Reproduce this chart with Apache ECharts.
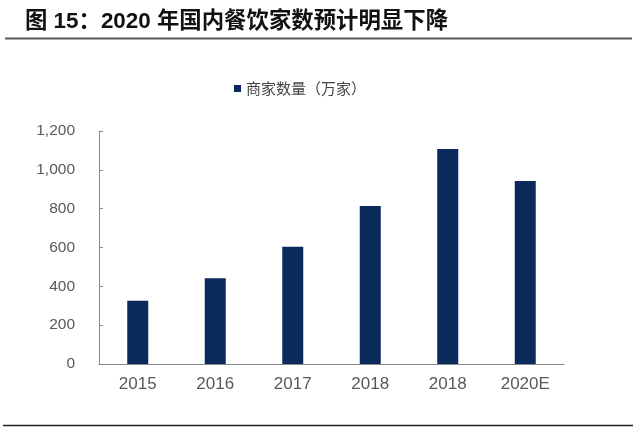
<!DOCTYPE html>
<html>
<head>
<meta charset="utf-8">
<script src="https://cdn.jsdelivr.net/npm/echarts@6/dist/echarts.min.js"></script>
<style>html,body{margin:0;padding:0;background:#fff;}#c{width:640px;height:431px;}</style>
</head>
<body>
<div id="c"></div>
<script>
var titleText = '图 15：2020 年国内餐饮家数预计明显下降';
var seriesName = '商家数量（万家）';
var categories = ['2015', '2016', '2017', '2018', '2018', '2020E'];
var values = [326, 441, 604, 814, 1107, 942];
var yTicks = [0, 200, 400, 600, 800, 1000, 1200];

var chart = echarts.init(document.getElementById('c'));
chart.setOption({
  animation: false,
  backgroundColor: '#fff',
  title: {
    text: titleText,
    left: 20, top: 6,
    textStyle: {fontFamily: 'Liberation Sans, "Noto Sans CJK SC"', fontSize: 22.4, fontWeight: 'bold', color: '#111'}
  },
  graphic: [
    {type: 'line', shape: {x1: 5, y1: 38.5, x2: 632, y2: 38.5}, style: {stroke: '#5a5a5a', lineWidth: 2}},
    {type: 'line', shape: {x1: 3, y1: 425.5, x2: 633, y2: 425.5}, style: {stroke: '#222', lineWidth: 1.3}}
  ],
  legend: {
    data: [seriesName],
    left: 229, top: 76,
    icon: 'rect', itemWidth: 7, itemHeight: 7, itemGap: 5,
    textStyle: {fontFamily: '"Noto Sans CJK SC"', fontSize: 15, color: '#444'}
  },
  grid: {left: 99, right: 76, top: 131, bottom: 67},
  xAxis: {
    type: 'category',
    data: categories,
    axisLine: {lineStyle: {color: '#8a8a8a', width: 1}},
    axisTick: {inside: true, length: 4, lineStyle: {color: '#8a8a8a'}},
    axisLabel: {margin: 12, fontFamily: 'Liberation Sans', fontSize: 17, color: '#595959'}
  },
  yAxis: {
    type: 'value',
    min: yTicks[0], max: yTicks[yTicks.length - 1], interval: 200,
    splitLine: {show: false},
    axisLine: {show: true, lineStyle: {color: '#8a8a8a', width: 1}},
    axisTick: {show: true, inside: true, length: 4, lineStyle: {color: '#8a8a8a'}},
    axisLabel: {
      margin: 24, fontFamily: 'Liberation Sans', fontSize: 15.5, color: '#595959',
      formatter: function (v) { return v.toString().replace(/\B(?=(\d{3})+(?!\d))/g, ','); }
    }
  },
  series: [{
    name: seriesName,
    type: 'bar',
    data: values,
    barWidth: 21,
    itemStyle: {color: '#0a2a5c'}
  }]
});
</script>
</body>
</html>
